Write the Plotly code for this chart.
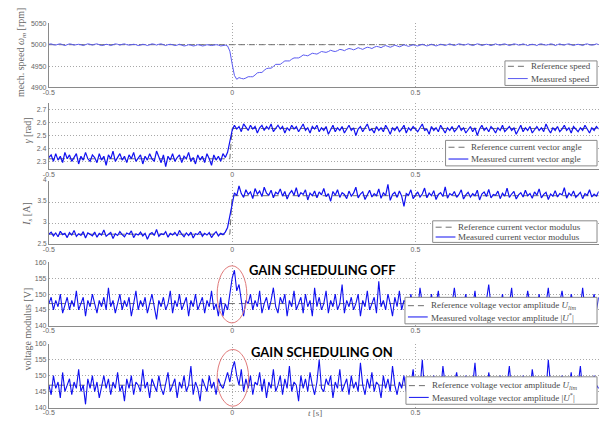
import numpy as np
import plotly.graph_objects as go

# ---------------- data ----------------
t_start = -0.5
sample_period = 0.00625
x_tick_vals = [-0.5, 0, 0.5, 1]
x_tick_text = ["-0.5", "0", "0.5", "1"]

# mechanical speed [rpm]
speed_ref_value = 5000
speed_pre = [5001,5002,5000,4999,5001,5002,5000,4998,5000,5002,
             5001,4999,5000,5001,5000,4998,5000,5002,5001,4999,
             5001,5002,5000,4998,4999,5001,5000,4998,5000,5002,
             5001,4999,5001,5002,5000,4999,5000,5001,5000,4998,
             4999,5001,5000,4998,5000,5002,5001,4999,5001,5002,
             5000,4998,5000,5001,5000,4998,4999,5001,4999,4997,
             4998,5000,4999,4997,4998,5000,4999,4997,4998,5000,
             4999,4998,4999,5000,4999,4997,4998,4999]
speed_step = [4997,4985,4955,4928,4919]
speed_post = [4923,4921,4920,4922,4925,4925,4925,4929,4934,4935,
              4935,4940,4944,4945,4945,4949,4954,4954,4954,4958,
              4962,4962,4962,4966,4969,4969,4969,4972,4976,4975,
              4974,4977,4980,4979,4978,4981,4984,4983,4982,4984,
              4987,4985,4984,4986,4989,4988,4986,4989,4991,4990,
              4988,4990,4993,4991,4989,4992,4994,4993,4991,4994,
              4996,4995,4993,4996,4998,4996,4994,4996,4999,4997,
              4995,4997,5000,4998,4996,4998,5000,4998,4997,4999,
              5001,4999,4997,4999,5001,4999,4997,4999,5001,5000,
              4998,5000,5002,5000,
              4998,5000,5002,5001,4999,5000,5002,5000,4998,5000,
              5002,5001,4998,5000,5001,5000,4998,5000,5002,5000,
              4999,5001,5002,5000,4998,5000,5002,5001,4999,5000,
              5002,5000,4998,5000,5001,5000,4998,5001,5002,5000,
              4999,5000,5002,5001,4998,5000,5002,5000,4999,5001,
              5002,5000,4998,5000,5001,5000,4998,5001,5002,5000,
              4999,5000,5002,5000]

# current vector angle gamma [rad]
gamma_ref_levels = [2.32, 2.555]
gamma_pre = [2.33,2.35,2.30,2.36,2.31,2.34,2.29,2.37,2.32,2.35,
             2.30,2.33,2.36,2.28,2.34,2.31,2.37,2.32,2.30,2.35,
             2.33,2.29,2.36,2.31,2.34,2.27,2.35,2.32,2.38,2.30,
             2.33,2.36,2.31,2.34,2.29,2.35,2.32,2.37,2.30,2.33,
             2.35,2.28,2.34,2.31,2.36,2.32,2.30,2.38,2.33,2.29,
             2.35,2.26,2.34,2.31,2.36,2.30,2.33,2.35,2.29,2.34,
             2.32,2.37,2.30,2.33,2.28,2.35,2.31,2.34,2.29,2.36,
             2.32,2.27,2.35,2.31,2.34,2.30,2.36,2.33]
gamma_step = [2.37, 2.46, 2.54]
gamma_post = [2.58,2.55,2.57,2.53,2.59,2.56,2.54,2.58,2.55,2.57,
              2.52,2.56,2.58,2.54,2.57,2.55,2.59,2.53,2.56,2.58,
              2.55,2.57,2.52,2.56,2.54,2.58,2.55,2.57,2.53,2.56,
              2.59,2.54,2.56,2.52,2.57,2.55,2.58,2.53,2.56,2.54,
              2.57,2.51,2.55,2.58,2.53,2.56,2.54,2.57,2.52,2.55,
              2.58,2.54,2.56,2.50,2.55,2.57,2.53,2.56,2.59,2.54,
              2.55,2.52,2.57,2.54,2.56,2.53,2.58,2.55,2.51,2.56,
              2.54,2.57,2.53,2.55,2.58,2.52,2.56,2.54,2.57,2.55,
              2.53,2.56,2.59,2.54,2.55,2.51,2.57,2.54,2.56,2.53,
              2.58,2.55,2.52,2.56,2.54,2.57,2.53,2.55,2.58,2.54,
              2.56,2.52,2.55,2.57,2.53,2.56,2.50,2.55,2.58,2.54,
              2.56,2.53,2.57,2.55,2.52,2.56,2.54,2.58,2.53,2.55,
              2.57,2.54,2.56,2.51,2.55,2.58,2.53,2.56,2.54,2.57,
              2.52,2.55,2.57,2.54,2.56,2.53,2.59,2.55,2.52,2.56,
              2.54,2.57,2.53,2.55,2.58,2.54,2.56,2.52,2.57,2.55,
              2.53,2.56,2.54,2.58,2.55,2.52,2.56,2.54,2.57,2.55]

# current vector modulus I_s [A]
current_ref_levels = [2.74, 3.65]
current_pre = [2.74,2.79,2.70,2.77,2.68,2.81,2.73,2.76,2.66,2.78,
               2.72,2.83,2.69,2.75,2.71,2.80,2.65,2.77,2.74,2.70,
               2.79,2.67,2.76,2.72,2.84,2.69,2.74,2.78,2.64,2.75,
               2.71,2.80,2.73,2.68,2.77,2.74,2.82,2.66,2.75,2.72,
               2.79,2.70,2.76,2.62,2.74,2.78,2.71,2.85,2.69,2.75,
               2.73,2.80,2.67,2.76,2.72,2.78,2.70,2.83,2.74,2.68,
               2.77,2.71,2.79,2.65,2.75,2.73,2.81,2.69,2.76,2.72,
               2.78,2.66,2.74,2.80,2.70,2.76,2.73,2.79]
current_step = [2.90, 3.15, 3.45]
current_post = [3.72,3.65,3.88,3.70,3.61,3.79,3.68,3.74,3.58,3.82,
                3.69,3.76,3.63,3.85,3.71,3.66,3.78,3.60,3.73,3.69,
                3.81,3.64,3.75,3.57,3.70,3.77,3.66,3.84,3.62,3.72,
                3.68,3.79,3.55,3.71,3.65,3.76,3.60,3.74,3.67,3.82,
                3.63,3.70,3.52,3.75,3.66,3.79,3.61,3.72,3.68,3.58,
                3.76,3.64,3.71,3.85,3.60,3.69,3.74,3.56,3.67,3.78,
                3.62,3.70,3.65,3.81,3.59,3.72,3.66,3.92,3.54,3.68,
                3.73,3.61,3.76,3.64,3.40,3.70,3.66,3.79,3.58,3.67,
                3.74,3.62,3.69,3.83,3.60,3.71,3.65,3.77,3.56,3.68,
                3.72,3.63,3.86,3.59,3.70,3.66,3.75,3.61,3.68,3.79,
                3.57,3.67,3.73,3.62,3.70,3.65,3.78,3.55,3.69,3.74,
                3.63,3.80,3.60,3.68,3.66,3.76,3.58,3.71,3.64,3.83,
                3.61,3.69,3.75,3.57,3.67,3.72,3.62,3.78,3.65,3.70,
                3.59,3.74,3.66,3.81,3.60,3.68,3.73,3.56,3.69,3.64,
                3.77,3.62,3.70,3.67,3.84,3.59,3.71,3.65,3.76,3.61,
                3.68,3.73,3.58,3.70,3.66,3.79,3.62,3.69,3.64,3.75]

# voltage vector amplitude [V]
voltage_ref_value = 147
volt_off_pre = [147,149,145,148,146,150,144,147,149,145,
                148,146,151,145,147,149,143,148,146,150,
                147,144,148,146,149,145,152,146,148,144,
                147,150,145,148,146,149,143,147,151,145,
                148,146,149,144,147,150,146,142,148,146,
                149,145,147,151,144,148,146,150,145,147,
                149,143,148,146,150,145,147,149,144,148,
                146,151,145,147,143,149]
volt_off_step = [143,147,145,150,155,157.5,151,153,148,143,148]
volt_off_post = [147,150,145,148,146,151,144,147,149,145,
                 148,152,146,144,149,147,150,143,148,146,
                 151,145,147,149,144,150,146,148,143,152,
                 146,149,145,147,151,144,148,146,150,145,
                 147,153,144,148,146,149,145,147,150,143,
                 148,146,151,145,147,149,144,154,146,148,
                 145,150,147,143,149,146,151,145,148,147,
                 144,150,146,149,145,152,147,144,148,146,
                 150,145,147,151,144,148,146,149,145,147,
                 152,146,144,149,147,150,145,148,146,151,
                 144,147,149,145,148,153,146,147,144,149,
                 146,150,145,148,147,152,144,147,149,145,
                 148,146,151,147,144,149,146,150,145,148,
                 147,152,145,146,149,144,148,151,146,147,
                 145,150,147,144,149,146,152,145,148,146,
                 147,150,145,149]
volt_on_pre = [147,144,150,146,148,143,151,145,147,149,
               144,148,146,152,145,147,141,149,146,150,
               145,148,143,147,150,146,149,144,148,146,
               151,145,147,142,149,146,150,144,148,147,
               145,152,146,148,143,149,147,145,150,146,
               144,148,151,145,147,149,143,148,146,150,
               145,147,153,144,148,146,142,149,147,145,
               150,146,148,144,149,147]
volt_on_step = [146,149,151,148,152,154.5,150,147,152,145,149]
volt_on_post = [146,150,144,148,147,151,145,149,143,148,
                146,152,145,147,150,144,149,146,153,145,
                148,147,142,150,146,149,145,151,147,144,
                148,155,146,145,149,147,150,143,148,146,
                152,145,147,149,144,150,146,148,145,154,
                147,144,149,146,151,145,148,147,143,150,
                146,149,145,153,147,144,148,146,150,145,
                149,147,152,144,148,146,155,145,147,149,
                144,150,146,148,145,153,147,146,149,144,
                148,151,145,147,146,150,144,148,147,154,
                145,149,146,148,143,151,147,145,149,146,
                150,144,148,147,153,145,146,149,147,144,
                150,146,148,145,152,147,144,149,146,148,
                145,155,147,146,149,144,148,150,145,147,
                146,151,144,148,147,153,145,149,146,148,
                144,150,147,146]

speed_meas = speed_pre + speed_step + speed_post
gamma_meas = gamma_pre + gamma_step + gamma_post
current_meas = current_pre + current_step + current_post
volt_off_meas = volt_off_pre + volt_off_step + volt_off_post
volt_on_meas = volt_on_pre + volt_on_step + volt_on_post


def times(n):
    return t_start + np.arange(n) * sample_period


# ---------------- layout helpers ----------------
W, H = 599, 421
def px(x): return x / W
def py(y): return 1 - y / H

X_LEFT, X_RIGHT = 43.3, 598.7
panels = [
    dict(top=18.7, bottom=84.0, rng=[4900, 5050], tv=[4900, 4950, 5000, 5050], shift=0, fs=7),
    dict(top=100.2, bottom=167.3, rng=[2.24, 2.75], tv=[2.3, 2.4, 2.5, 2.6, 2.7], shift=0, fs=7),
    dict(top=179.3, bottom=244.0, rng=[2.5, 4.0], tv=[2.5, 3, 3.5, 4], shift=-1, fs=6.5),
    dict(top=262.3, bottom=327.0, rng=[140, 160], tv=[140, 145, 150, 155, 160], shift=0, fs=7),
    dict(top=345.3, bottom=410.3, rng=[140, 160], tv=[140, 145, 150, 155, 160], shift=0, fs=7),
]
tick_fmt = [lambda v: str(v), lambda v: f"{v:.1f}", lambda v: f"{v:g}",
            lambda v: str(v), lambda v: str(v)]

BLUE = "#1010f0"
REF = "#6e6e6e"
TXT = "#4a4a4a"
SERIF = "Liberation Serif"

fig = go.Figure()

series = [
    (speed_meas, None, speed_ref_value, "#5a5af0", 1.0),
    (gamma_meas, gamma_ref_levels, None, BLUE, 1.2),
    (current_meas, current_ref_levels, None, BLUE, 1.2),
    (volt_off_meas, None, voltage_ref_value, BLUE, 1.1),
    (volt_on_meas, None, voltage_ref_value, BLUE, 1.1),
]

for k, (meas, levels, const, col, lw) in enumerate(series):
    sfx = "" if k == 0 else str(k + 1)
    tt = times(len(meas))
    if levels is not None:
        ref = np.where(tt < 0, levels[0], levels[1])
    else:
        ref = np.full(len(tt), float(const))
    fig.add_trace(go.Scatter(x=tt, y=ref, mode="lines", xaxis="x" + sfx, yaxis="y" + sfx,
                             line=dict(color=REF, width=1, dash="6px,4px"), showlegend=False,
                             hoverinfo="skip"))
    fig.add_trace(go.Scatter(x=tt, y=meas, mode="lines", xaxis="x" + sfx, yaxis="y" + sfx,
                             line=dict(color=col, width=lw), showlegend=False))

    p = panels[k]
    grid_common = dict(showgrid=True, gridcolor="#a8a8a8", griddash="1px,2px", gridwidth=1,
                       zeroline=False, showline=True, linecolor="#8a8a8a", linewidth=1, ticks="")
    fig.layout["xaxis" + sfx] = dict(domain=[px(X_LEFT), px(X_RIGHT)], range=[-0.5, 1.0],
                                     anchor="y" + sfx, tickvals=x_tick_vals, ticktext=x_tick_text,
                                     ticklabelstandoff=-2,
                                     tickfont=dict(family="Liberation Sans", size=7, color="#666"),
                                     **grid_common)
    fig.layout["yaxis" + sfx] = dict(domain=[py(p["bottom"]), py(p["top"])], range=p["rng"],
                                     anchor="x" + sfx, tickvals=p["tv"], ticklabelshift=p["shift"],
                                     ticktext=[tick_fmt[k](v) for v in p["tv"]],
                                     tickfont=dict(family="Liberation Sans", size=p["fs"], color="#666"),
                                     **grid_common)

shapes = []
annotations = []

# red ellipses around the transient
shapes.append(dict(type="circle", xref="x4", yref="y4", x0=-0.041, x1=0.040, y0=140.9, y1=158.9,
                   line=dict(color="#e07a7a", width=1), layer="above"))
shapes.append(dict(type="circle", xref="x5", yref="y5", x0=-0.041, x1=0.045, y0=140.4, y1=158.2,
                   line=dict(color="#e07a7a", width=1), layer="above"))


def add_legend(x0, y0, x1, y1, rows, sample_len=20):
    shapes.append(dict(type="rect", xref="paper", yref="paper", x0=px(x0), x1=px(x1),
                       y0=py(y1), y1=py(y0), fillcolor="white",
                       line=dict(color="#8a8a8a", width=1), layer="above"))
    for (yy, text, dashed, col) in rows:
        shapes.append(dict(type="line", xref="paper", yref="paper", x0=px(x0 + 3),
                           x1=px(x0 + 3 + sample_len), y0=py(yy), y1=py(yy),
                           line=dict(color=col, width=1, dash="6px,4px" if dashed else "solid"),
                           layer="above"))
        annotations.append(dict(xref="paper", yref="paper", x=px(x0 + 4 + sample_len), y=py(yy),
                                xanchor="left", yanchor="middle", text=text, showarrow=False,
                                font=dict(family=SERIF, size=9, color=TXT)))


add_legend(504, 57, 597, 82, [(62.5, "Reference speed", True, REF),
                              (75, "Measured speed", False, "#5a5af0")])
add_legend(444, 138, 597, 164, [(145, "Reference current vector angle", True, REF),
                                (157, "Measured current vector angle", False, BLUE)])
add_legend(431, 220, 597, 242, [(226.5, "Reference current vector modulus", True, REF),
                                (236.5, "Measured current vector modulus", False, BLUE)])
add_legend(403, 298, 597, 325, [(306.5, "Reference voltage vector amplitude <i>U</i><sub><i>lim</i></sub>", True, REF),
                                (318, "Measured voltage vector amplitude |<i>U</i><sup>*</sup>|", False, BLUE)])
add_legend(404, 379, 597, 407, [(388, "Reference voltage vector amplitude <i>U</i><sub><i>lim</i></sub>", True, REF),
                                (400, "Measured voltage vector amplitude |<i>U</i><sup>*</sup>|", False, BLUE)])

# axis titles
def ytitle(x, y, text):
    annotations.append(dict(xref="paper", yref="paper", x=px(x), y=py(y), text=text,
                            textangle=-90, showarrow=False, xanchor="center", yanchor="middle",
                            font=dict(family=SERIF, size=10, color="#666")))

ytitle(15, 48, "mech. speed <i>ω</i><sub><i>m</i></sub> [rpm]")
ytitle(22, 128, "<i>γ</i> [rad]")
ytitle(22, 213, "<i>I</i><sub><i>s</i></sub> [A]")
ytitle(22, 330, "voltage modulus [V]")
annotations.append(dict(xref="paper", yref="paper", x=px(312), y=py(416), text="<i>t</i> [s]",
                        showarrow=False, xanchor="center", yanchor="middle",
                        font=dict(family=SERIF, size=9, color="#666")))

# overlay labels
annotations.append(dict(xref="paper", yref="paper", x=px(320), y=py(270), text="<b>GAIN SCHEDULING OFF</b>",
                        showarrow=False, xanchor="center", yanchor="middle",
                        font=dict(family="Lato", size=13, color="black")))
annotations.append(dict(xref="paper", yref="paper", x=px(319), y=py(354), text="<b>GAIN SCHEDULING ON</b>",
                        showarrow=False, xanchor="center", yanchor="middle",
                        font=dict(family="Lato", size=13, color="black")))

fig.update_layout(width=W, height=H, margin=dict(l=0, r=0, t=0, b=0),
                  paper_bgcolor="white", plot_bgcolor="white", showlegend=False,
                  shapes=shapes, annotations=annotations)

fig.write_html("out.html")
